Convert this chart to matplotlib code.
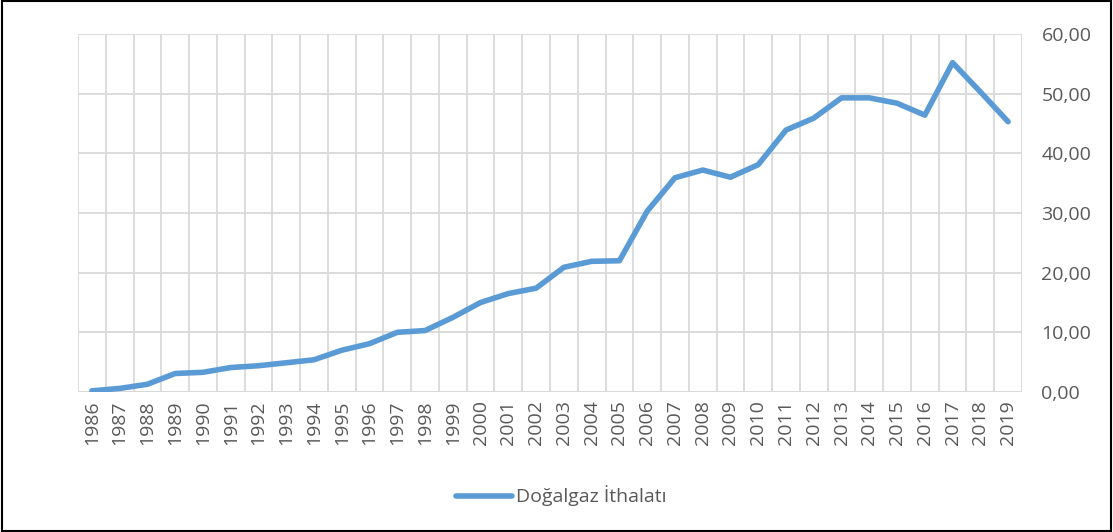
import matplotlib
matplotlib.use("Agg")
import matplotlib.pyplot as plt
from matplotlib.patches import Rectangle

years = list(range(1986, 2020))
values = [0.2, 0.6, 1.3, 3.1, 3.3, 4.1, 4.4, 4.9, 5.4, 7.0, 8.1, 10.0,
          10.3, 12.5, 15.0, 16.5, 17.4, 20.9, 21.9, 22.0, 30.3, 35.9,
          37.2, 36.0, 38.1, 43.9, 45.9, 49.3, 49.3, 48.4, 46.4, 55.2,
          50.3, 45.3]
series_name = "Doğalgaz İthalatı"
yticks = [0, 10, 20, 30, 40, 50, 60]

plt.rcParams['font.family'] = ['Open Sans', 'DejaVu Sans']
txt = '#595959'
grid = '#D9D9D9'

fig = plt.figure(figsize=(11.13, 5.32), dpi=100)
ax = fig.add_axes([78/1113, 1 - 392/532, (1022-78)/1113, (392-34)/532])

x = list(range(len(years)))
ln, = ax.plot(x, values, color='#5B9BD5', linewidth=4.0, solid_capstyle='round',
              solid_joinstyle='round', label=series_name)

ax.set_xlim(-0.5, len(years) - 0.5)
ax.set_ylim(0, 60)
ax.set_yticks(yticks)
ax.set_yticklabels([f"{v:.2f}".replace('.', ',') for v in yticks])
ax.yaxis.tick_right()
ax.set_xticks(x)
ax.set_xticklabels([str(y) for y in years], rotation=90)
ax.set_xticks([i - 0.5 for i in range(len(years) + 1)], minor=True)
ax.tick_params(axis='both', which='both', length=0, labelsize=14, colors=txt)
ax.tick_params(axis='y', pad=14)
ax.tick_params(axis='x', pad=6)
ax.grid(True, axis='x', which='minor', color=grid, linewidth=1.3)
ax.grid(True, axis='y', which='major', color=grid, linewidth=1.3)
ax.set_axisbelow(True)
for s in ax.spines.values():
    s.set_visible(False)
ax.axhline(0, color=grid, linewidth=1.3, zorder=1)

fig.legend(handles=[ln], labels=[series_name], loc='center', bbox_to_anchor=(561/1113, 1 - 496/532),
           frameon=False, fontsize=14, handlelength=2.9, handletextpad=0.2, labelcolor=txt)

fig.patches.append(Rectangle((0.0015, 0.002), 0.997, 0.996, transform=fig.transFigure,
                             fill=False, edgecolor='black', linewidth=1.5))

fig.savefig('out.png', dpi=100)
